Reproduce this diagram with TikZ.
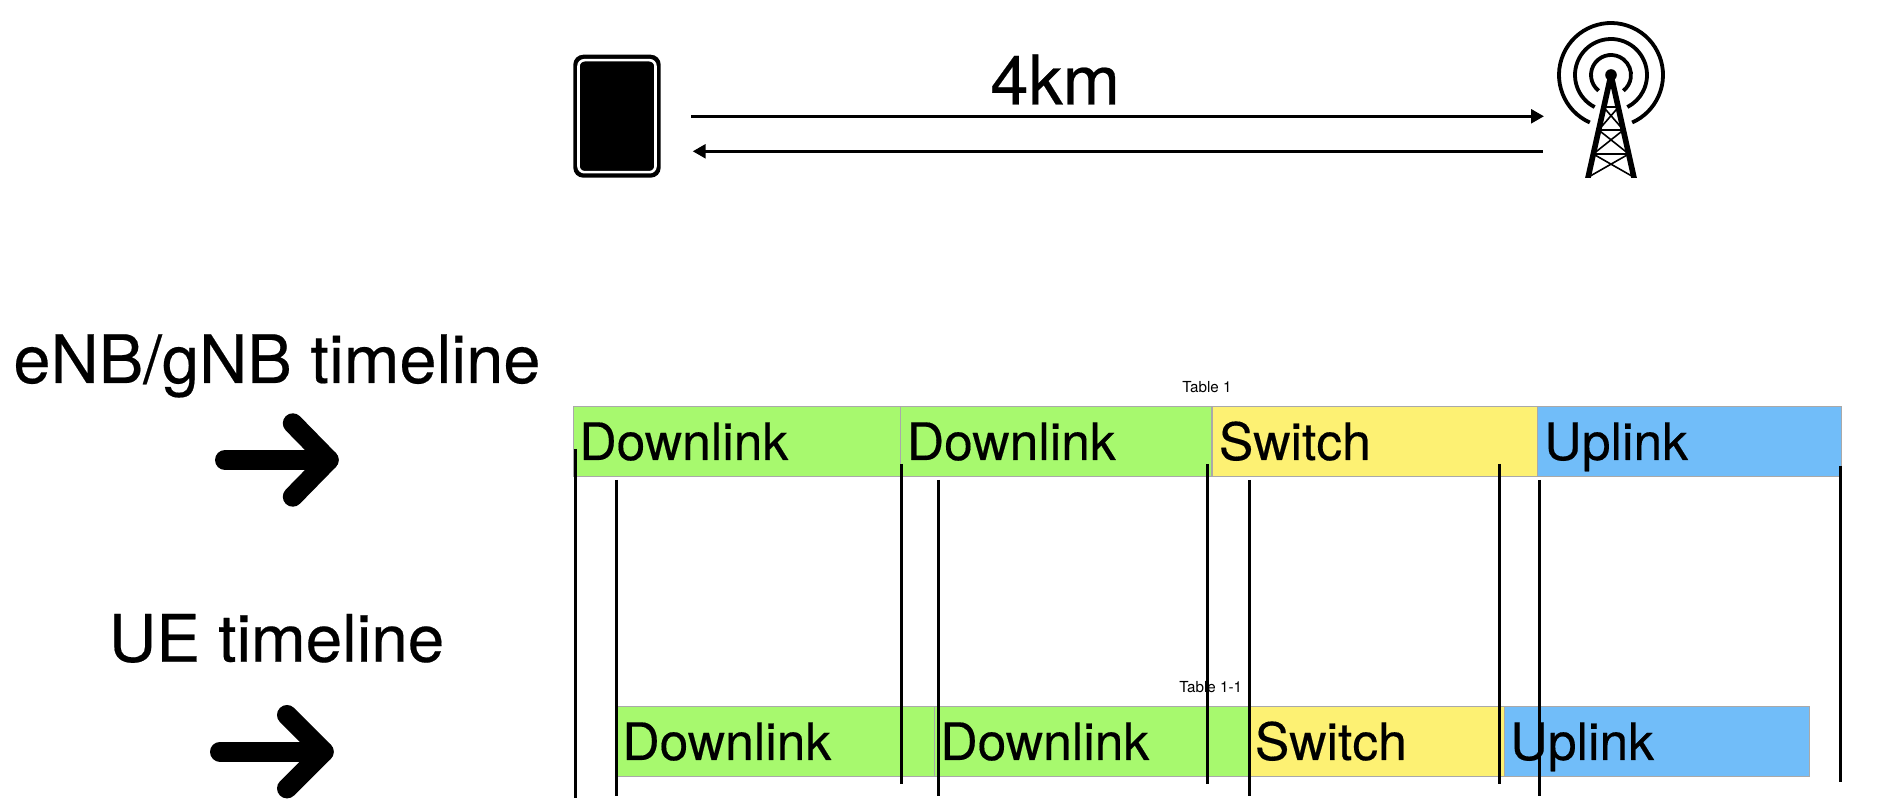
\documentclass[tikz,border=0pt]{standalone}
\usepackage{fontspec}
\setmainfont{TeX Gyre Heros}
\newfontfamily\heavyface[FakeBold=0.3]{TeX Gyre Heros}
\usetikzlibrary{arrows.meta}
\definecolor{dlgreen}{HTML}{A7F96E}
\definecolor{swyellow}{HTML}{FDF173}
\definecolor{ulblue}{HTML}{71BDF9}
\definecolor{cellborder}{HTML}{A9A9A9}
\tikzset{
  x=0.5pt, y=-0.5pt,
  cell/.style={draw=cellborder, line width=0.6pt, rectangle, inner sep=0pt, outer sep=0pt, anchor=north west, minimum height=35.2pt},
  celltext/.style={anchor=base west, inner sep=0pt, font=\heavyface\fontsize{25.8}{30}\selectfont},
  bigtext/.style={anchor=base west, inner sep=0pt, font=\heavyface\fontsize{33.4}{39}\selectfont},
  tabletitle/.style={anchor=base west, inner sep=0pt, font=\fontsize{7.6}{9}\selectfont},
  tick/.style={black, line width=1.5pt},
  link/.style={black, line width=1.5pt, -{Triangle[length=6.4pt, width=6.8pt]}},
  bigarrow/.style={black, line width=10pt, line cap=round, line join=round},
  mast/.style={black, line width=2.8pt},
  thickbar/.style={black, line width=1.3pt},
  thinbar/.style={black, line width=0.8pt},
  ring/.style={black, line width=1.9pt},
}
\begin{document}
\begin{tikzpicture}
\useasboundingbox (0,0) rectangle (1892,812);
\fill[white] (0,0) rectangle (1892,812);

% phone
\node[fill=black, rectangle, rounded corners=5pt, inner sep=0pt, outer sep=0pt, minimum width=43.7pt, minimum height=61.5pt, anchor=north west] (phone) at (573.3,54.7) {};
\node[draw=white, line width=1.3pt, fill=black, rectangle, rounded corners=3pt, inner sep=0pt, minimum width=38.5pt, minimum height=56pt] (screen) at (phone.center) {};

% tower
\coordinate (apex) at (1611,75);
\draw[ring] (apex) ++(114:52) arc[start angle=114, end angle=426, radius=52];
\draw[ring] (apex) ++(117:36) arc[start angle=117, end angle=423, radius=36];
\draw[ring] (apex) ++(128:20) arc[start angle=128, end angle=412, radius=20];
\fill[black] (apex) circle[radius=5.8];
\begin{scope}
\clip (1570,60) rectangle (1652,177.5);
\draw[mast] (1611,75) -- (1587.5,180);
\draw[mast] (1611,75) -- (1634.5,180);
\draw[thinbar] (1603.7,107.3) -- (1618.3,107.3);
\draw[thickbar] (1598.6,130) -- (1623.4,130);
\draw[thickbar] (1593.2,154) -- (1628.8,154);
\draw[thinbar] (1603.7,107.3) -- (1623.4,130);
\draw[thinbar] (1618.3,107.3) -- (1598.6,130);
\draw[thinbar] (1598.6,130) -- (1628.8,154);
\draw[thinbar] (1623.4,130) -- (1593.2,154);
\draw[thinbar] (1593.2,154) -- (1634,177.3);
\draw[thinbar] (1628.8,154) -- (1588,177.3);
\end{scope}

% links
\coordinate (ufrom) at (691,116.3);
\coordinate (uto) at (1544,116.3);
\coordinate (dfrom) at (1542.7,151.3);
\coordinate (dto) at (692.7,151.3);
\draw[link] (ufrom) -- (uto);
\draw[link] (dfrom) -- (dto);
\node[bigtext, font=\heavyface\fontsize{34.3}{39}\selectfont] (dist) at (990,104.5) {4km};

% labels
\node[bigtext] (enblabel) at (13,383) {eNB/gNB timeline};
\node[bigtext, font=\heavyface\fontsize{32.8}{39}\selectfont] (uelabel) at (108.5,661.7) {UE timeline};
\draw[bigarrow] (225,460) -- (328.7,460);
\draw[bigarrow] (292.8,423.3) -- (328.7,460) -- (292.8,496.7);
\draw[bigarrow] (220,751.7) -- (323.7,751.7);
\draw[bigarrow] (287,715) -- (323.7,751.7) -- (287,788.4);

% top table
\node[tabletitle] (t1) at (1182,392.7) {Table 1};
\node[cell, fill=dlgreen, minimum width=163.6pt] (a1) at (573.4,406.3) {};
\node[cell, fill=dlgreen, minimum width=155.7pt] (a2) at (900.6,406.3) {};
\node[cell, fill=swyellow, minimum width=162.8pt] (a3) at (1212,406.3) {};
\node[cell, fill=ulblue, minimum width=151.8pt] (a4) at (1537.6,406.3) {};
\node[celltext] at (579,460) {Downlink};
\node[celltext] at (906.5,460) {Downlink};
\node[celltext] at (1218.5,460) {Switch};
\node[celltext] at (1544,460) {Uplink};

% bottom table
\node[tabletitle] (t2) at (1179,692.7) {Table 1-1};
\node[cell, fill=dlgreen, minimum width=158.5pt] (b1) at (617.6,706.3) {};
\node[cell, fill=dlgreen, minimum width=157.5pt] (b2) at (934.5,706.3) {};
\node[cell, fill=swyellow, minimum width=127.5pt] (b3) at (1249.4,706.3) {};
\node[cell, fill=ulblue, minimum width=152.3pt] (b4) at (1504.5,706.3) {};
\node[celltext] at (622,760) {Downlink};
\node[celltext] at (940,760) {Downlink};
\node[celltext] at (1254.5,760) {Switch};
\node[celltext] at (1510,760) {Uplink};

% timing ticks
\draw[tick] (575.2,449) -- (575.2,798);
\draw[tick] (616.3,480) -- (616.3,796);
\draw[tick] (901.5,464) -- (901.5,783.7);
\draw[tick] (938,480) -- (938,796);
\draw[tick] (1207.5,464) -- (1207.5,783.7);
\draw[tick] (1249.4,480) -- (1249.4,796);
\draw[tick] (1499.2,464) -- (1499.2,783.7);
\draw[tick] (1539.4,480) -- (1539.4,796);
\draw[tick] (1840.3,466) -- (1840.3,781.7);
\end{tikzpicture}
\end{document}
